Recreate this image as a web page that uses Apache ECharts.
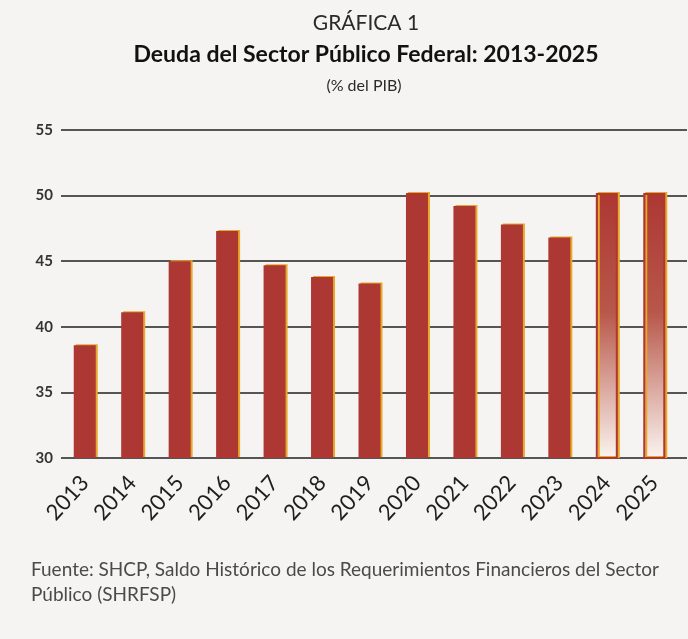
<!DOCTYPE html>
<html>
<head>
<meta charset="utf-8">
<script src="https://cdn.jsdelivr.net/npm/echarts@6/dist/echarts.min.js"></script>
<style>
html,body{margin:0;padding:0;background:#f6f4f3;}
#c{width:688px;height:639px;}
</style>
</head>
<body>
<div id="c"></div>
<script>
const years = ['2013','2014','2015','2016','2017','2018','2019','2020','2021','2022','2023','2024','2025'];
const deuda = [38.6, 41.1, 45.0, 47.3, 44.7, 43.8, 43.3, 50.2, 49.2, 47.8, 46.8, 50.2, 50.2];
const projected = ['2024','2025'];
const yTicks = {min: 30, max: 55, interval: 5};

const chart = echarts.init(document.getElementById('c'));
const red = '#ad3733';
const data = deuda.map((v, i) => {
  if (projected.includes(years[i])) {
    return {
      value: v,
      itemStyle: {
        color: {type:'linear', x:0, y:0, x2:0, y2:1, colorStops:[
          {offset:0, color:'#ad3733'}, {offset:0.45, color:'#b8584a'}, {offset:1, color:'#fbf4f0'}]},
        borderColor: red, borderWidth: 2
      }
    };
  }
  return v;
});

chart.setOption({
  backgroundColor: '#f6f4f3',
  animation: false,
  title: [
    {text: 'GRÁFICA 1', left: 361, textAlign: 'center', top: 8, textStyle: {fontFamily: 'Lato', fontWeight: 'normal', fontSize: 21, color: '#2a2a2a'}},
    {text: 'Deuda del Sector Público Federal: 2013-2025', left: 361, textAlign: 'center', top: 38, textStyle: {fontFamily: 'Lato', fontWeight: 'bold', fontSize: 23, color: '#111'}},
    {text: '(% del PIB)', left: 359, textAlign: 'center', top: 73, textStyle: {fontFamily: 'Lato', fontWeight: 'normal', fontSize: 16, color: '#2a2a2a'}},
    {text: 'Fuente: SHCP, Saldo Histórico de los Requerimientos Financieros del Sector\nPúblico (SHRFSP)', left: 26, top: 552,
     textStyle: {fontFamily: 'Lato', fontWeight: 'normal', fontSize: 19, lineHeight: 25, color: '#4a4a4a'}}
  ],
  grid: [
    {left: 61, right: 10, top: 130, bottom: 181},
    {left: 61, right: 1, top: 130, bottom: 181}
  ],
  xAxis: [
    {type: 'category', gridIndex: 0, data: years, boundaryGap: true,
     axisLine: {show: false}, axisTick: {show: false},
     axisLabel: {rotate: 48, margin: 21, fontFamily: 'Lato', fontSize: 22, color: '#1e1e1e'}},
    {type: 'category', gridIndex: 1, data: years, show: false}
  ],
  yAxis: [
    {type: 'value', gridIndex: 0, min: yTicks.min, max: yTicks.max, interval: yTicks.interval, show: false, splitLine: {show: false}},
    {type: 'value', gridIndex: 1, min: yTicks.min, max: yTicks.max, interval: yTicks.interval,
     axisLine: {show: false}, axisTick: {show: false},
     axisLabel: {margin: 8, fontFamily: 'Lato', fontWeight: 'bold', fontSize: 15, color: '#333'},
     splitLine: {lineStyle: {color: '#555', width: 2}}}
  ],
  series: [{
    type: 'bar', xAxisIndex: 0, yAxisIndex: 0, data: data, barWidth: 22, z: 3,
    itemStyle: {color: red, shadowColor: '#e8a828', shadowOffsetX: 2, shadowOffsetY: -1, shadowBlur: 0}
  }]
});
</script>
</body>
</html>
